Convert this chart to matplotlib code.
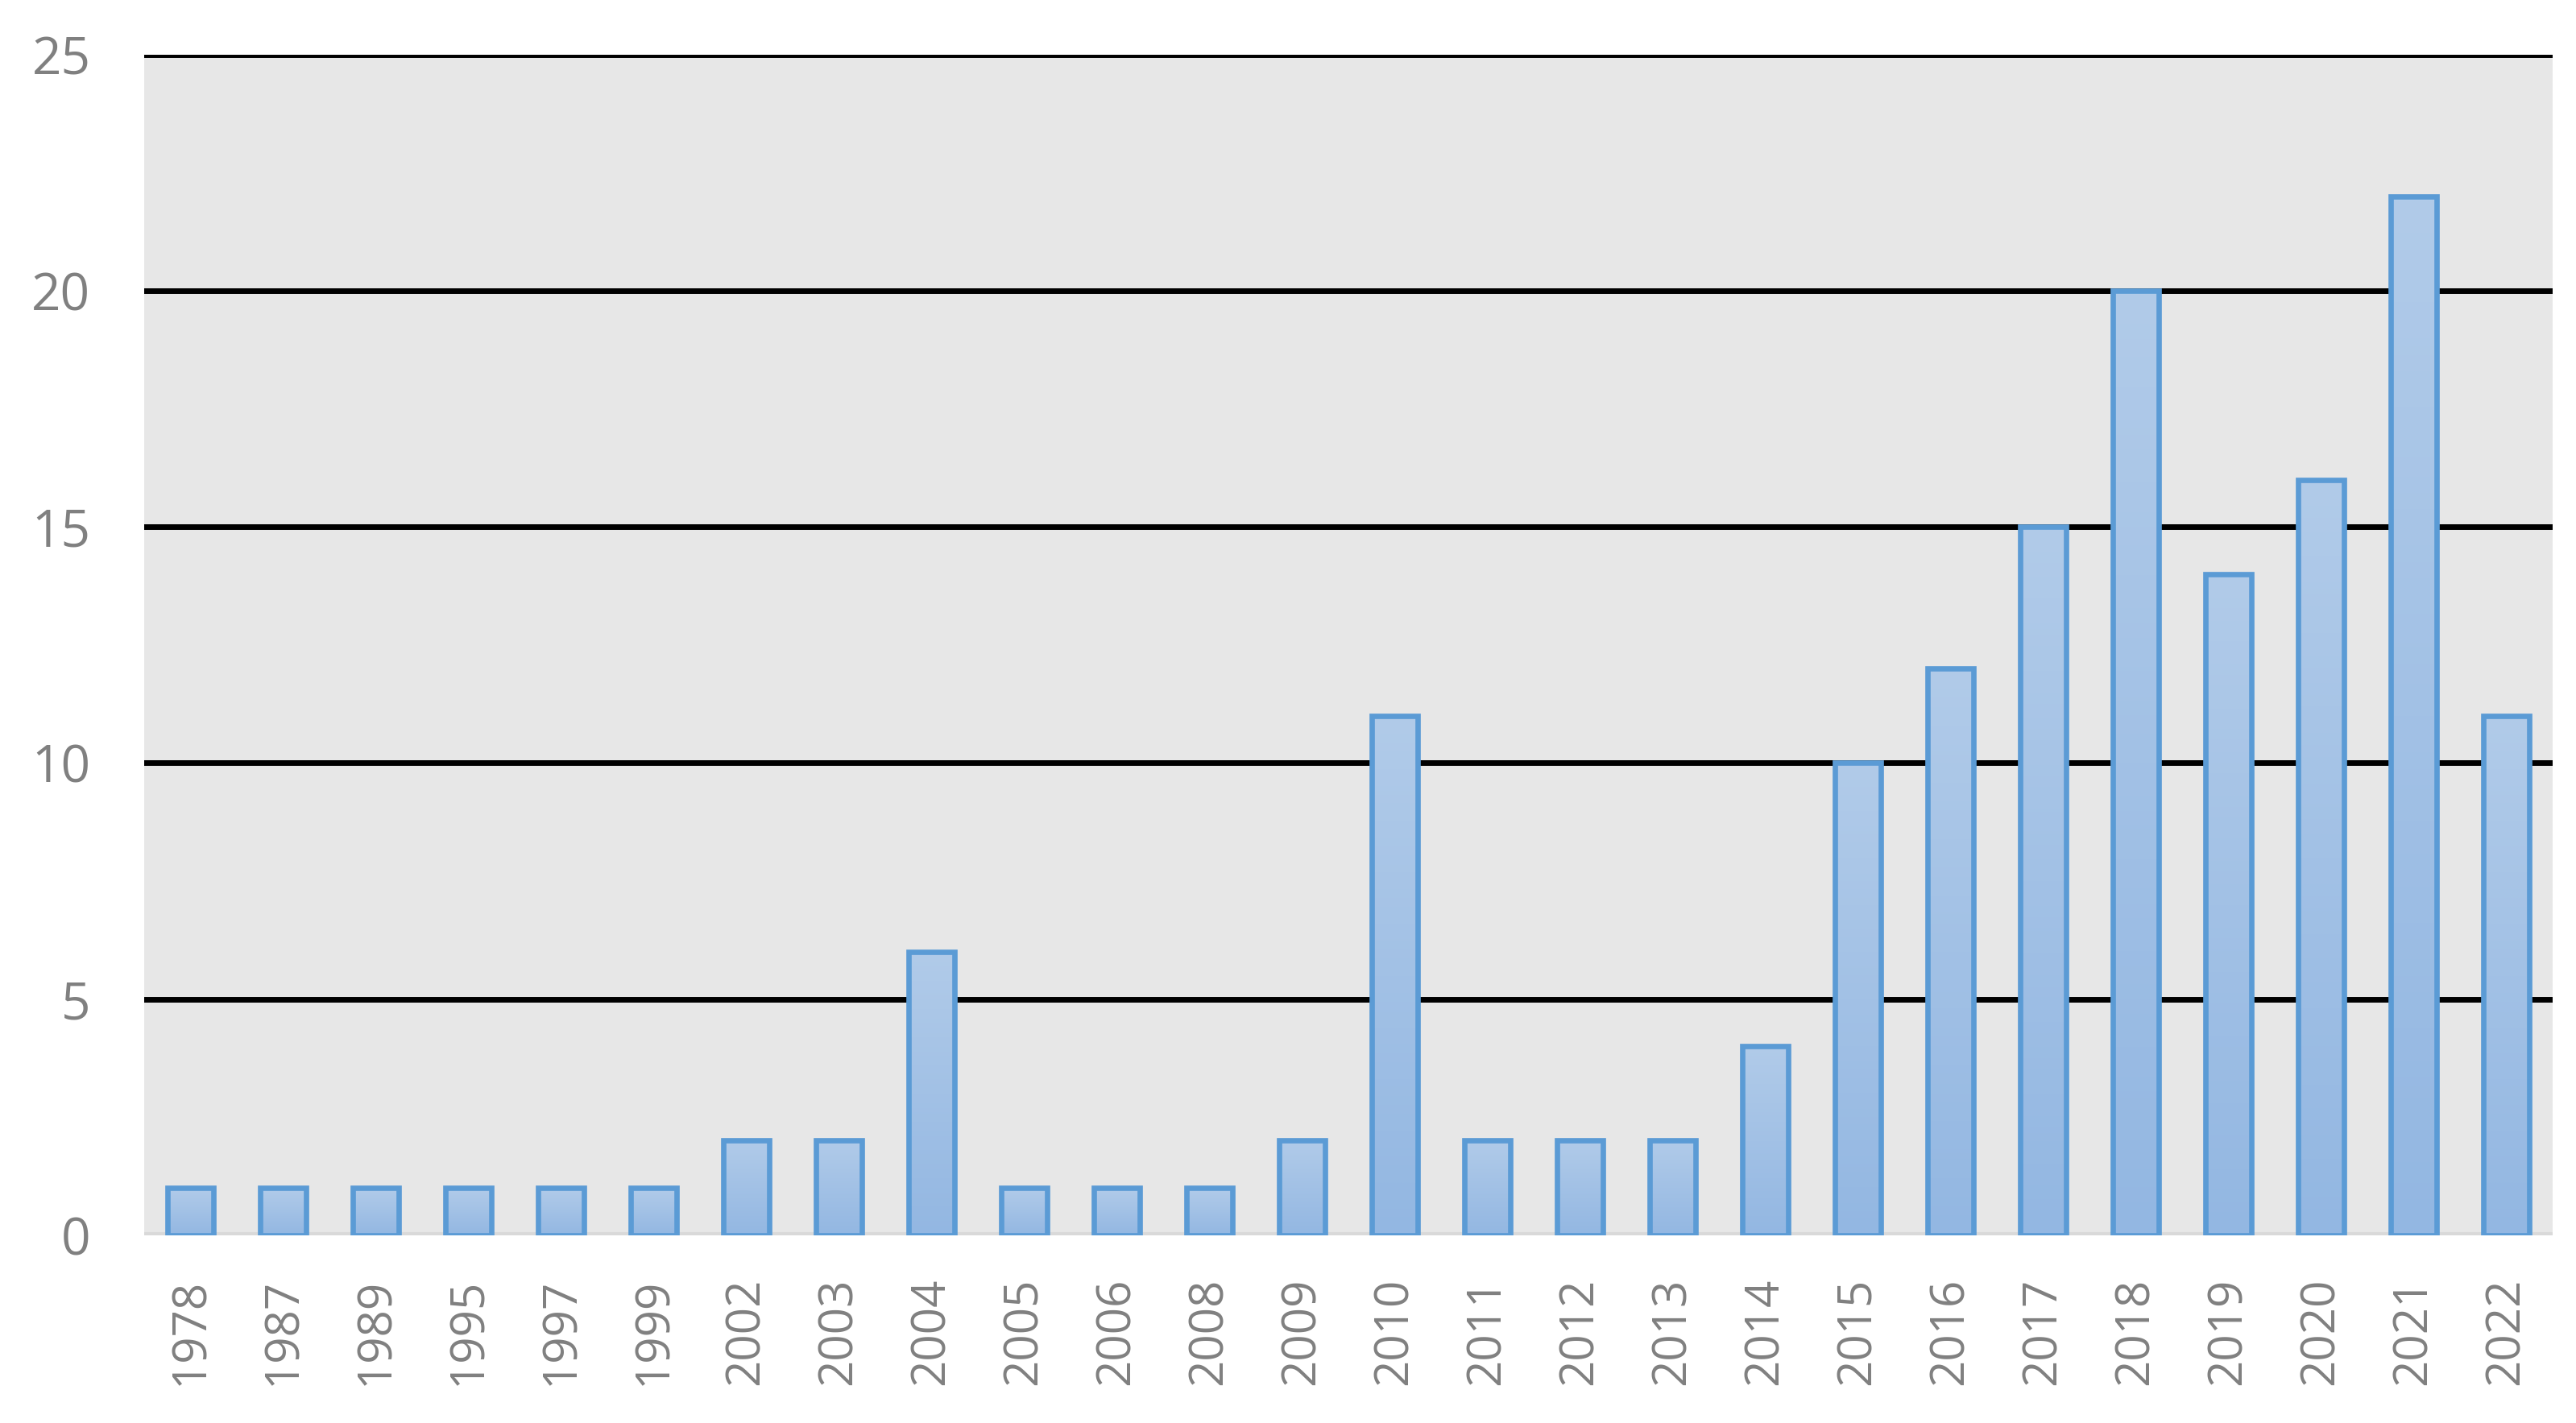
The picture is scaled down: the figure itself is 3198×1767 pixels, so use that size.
import numpy as np
import matplotlib
matplotlib.use("Agg")
from matplotlib import pyplot as plt
from matplotlib.colors import LinearSegmentedColormap

years = ["1978", "1987", "1989", "1995", "1997", "1999", "2002", "2003", "2004",
         "2005", "2006", "2008", "2009", "2010", "2011", "2012", "2013", "2014",
         "2015", "2016", "2017", "2018", "2019", "2020", "2021", "2022"]
counts = [1, 1, 1, 1, 1, 1, 2, 2, 6, 1, 1, 1, 2, 11, 2, 2, 2, 4,
          10, 12, 15, 20, 14, 16, 22, 11]
yticks = [0, 5, 10, 15, 20, 25]

plt.rcParams['font.family'] = ['Open Sans', 'DejaVu Sans']

fig = plt.figure(figsize=(15.99, 8.835), dpi=200)
ax = fig.add_axes([0.056, 0.132, 0.935, 0.8295])
ax.set_facecolor("#e7e7e7")

x = np.arange(len(years))
bars = ax.bar(x, counts, width=0.5, facecolor="none", edgecolor="#5b9bd5",
              linewidth=2.4, zorder=3)

# vertical gradient inside each bar
cmap = LinearSegmentedColormap.from_list("bar", ["#93b7e2", "#b1cbe9"])
grad = np.linspace(0, 1, 256).reshape(-1, 1)
for b in bars:
    x0 = b.get_x()
    im = ax.imshow(grad, extent=[x0, x0 + b.get_width(), 0, b.get_height()],
                   origin="lower", cmap=cmap, aspect="auto", zorder=2.5)
    im.set_clip_path(b)

for v in yticks[1:]:
    ax.axhline(v, color="black", linewidth=2.5, zorder=1)
ax.axhline(0, color="#d9d9d9", linewidth=2.9, zorder=2)

ax.set_xlim(-0.5, len(years) - 0.5)
ax.set_ylim(0, 25)
ax.set_yticks(yticks)
ax.set_xticks(x)
ax.set_xticklabels(years, rotation=90)
ax.tick_params(axis="y", length=0, pad=24, labelsize=23, labelcolor="#808080")
ax.tick_params(axis="x", length=0, pad=19, labelsize=21, labelcolor="#808080")
for s in ax.spines.values():
    s.set_visible(False)

fig.savefig("out.png", dpi=200)
